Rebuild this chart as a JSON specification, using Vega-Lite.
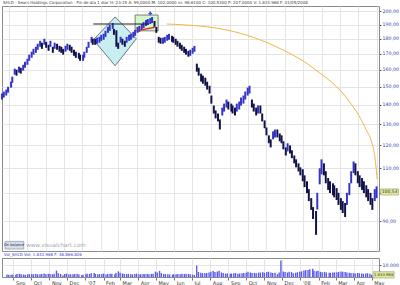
{
"$schema": "https://vega.github.io/schema/vega-lite/v6.json",
"padding": 0,
"spacing": 0,
"background": "#ffffff",
"config": {
  "font": "DejaVu Sans",
  "view": {"stroke": "#8a8a8a", "strokeWidth": 1},
  "axis": {"gridColor": "#e4e4e4", "gridWidth": 1, "labelFont": "DejaVu Sans", "title": null}
},
"datasets": {
"px": [
{"d":"2006-08-21","h":146.2,"l":142.9,"u":1,"v":2100},
{"d":"2006-08-24","h":147.3,"l":144.0,"u":1,"v":1900},
{"d":"2006-08-28","h":148.4,"l":145.1,"u":1,"v":1800},
{"d":"2006-08-31","h":150.0,"l":146.7,"u":1,"v":2200},
{"d":"2006-09-05","h":153.0,"l":149.5,"u":1,"v":2000},
{"d":"2006-09-07","h":155.9,"l":152.3,"u":1,"v":2500},
{"d":"2006-09-11","h":160.7,"l":157.1,"u":1,"v":2800},
{"d":"2006-09-14","h":160.1,"l":156.5,"u":0,"v":2300},
{"d":"2006-09-18","h":162.0,"l":158.3,"u":1,"v":2100},
{"d":"2006-09-21","h":161.3,"l":157.7,"u":0,"v":1900},
{"d":"2006-09-25","h":163.1,"l":159.5,"u":1,"v":2200},
{"d":"2006-09-28","h":165.0,"l":161.3,"u":1,"v":2400},
{"d":"2006-10-02","h":166.9,"l":163.1,"u":1,"v":2600},
{"d":"2006-10-05","h":169.5,"l":165.6,"u":1,"v":2300},
{"d":"2006-10-09","h":171.4,"l":167.5,"u":1,"v":2700},
{"d":"2006-10-12","h":173.3,"l":169.5,"u":1,"v":2200},
{"d":"2006-10-16","h":174.7,"l":170.7,"u":1,"v":2400},
{"d":"2006-10-19","h":176.7,"l":172.7,"u":1,"v":2600},
{"d":"2006-10-23","h":178.7,"l":174.7,"u":1,"v":3000},
{"d":"2006-10-26","h":177.4,"l":173.3,"u":0,"v":2300},
{"d":"2006-10-30","h":180.1,"l":176.0,"u":1,"v":2800},
{"d":"2006-11-02","h":178.0,"l":174.0,"u":0,"v":2500},
{"d":"2006-11-06","h":176.0,"l":172.0,"u":0,"v":2300},
{"d":"2006-11-09","h":178.7,"l":174.7,"u":1,"v":2700},
{"d":"2006-11-13","h":174.7,"l":170.7,"u":0,"v":5400},
{"d":"2006-11-16","h":177.4,"l":173.3,"u":1,"v":3200},
{"d":"2006-11-20","h":176.7,"l":172.7,"u":0,"v":2500},
{"d":"2006-11-24","h":175.3,"l":171.4,"u":0,"v":1500},
{"d":"2006-11-27","h":174.7,"l":170.7,"u":0,"v":2600},
{"d":"2006-11-30","h":173.3,"l":169.5,"u":0,"v":2900},
{"d":"2006-12-04","h":175.3,"l":171.4,"u":1,"v":2400},
{"d":"2006-12-07","h":176.7,"l":172.7,"u":1,"v":2200},
{"d":"2006-12-11","h":176.0,"l":172.0,"u":0,"v":2300},
{"d":"2006-12-14","h":174.7,"l":170.7,"u":0,"v":2500},
{"d":"2006-12-18","h":172.7,"l":168.8,"u":0,"v":2800},
{"d":"2006-12-21","h":171.4,"l":167.5,"u":0,"v":2200},
{"d":"2006-12-26","h":170.7,"l":166.9,"u":0,"v":1600},
{"d":"2006-12-28","h":169.5,"l":165.6,"u":0,"v":1800},
{"d":"2007-01-02","h":169.5,"l":165.6,"u":1,"v":2400},
{"d":"2007-01-04","h":171.4,"l":167.5,"u":1,"v":2700},
{"d":"2007-01-08","h":174.7,"l":170.7,"u":1,"v":2600},
{"d":"2007-01-11","h":178.0,"l":174.0,"u":1,"v":3100},
{"d":"2007-01-16","h":181.4,"l":177.4,"u":1,"v":3400},
{"d":"2007-01-18","h":180.1,"l":176.0,"u":0,"v":2500},
{"d":"2007-01-22","h":180.1,"l":176.0,"u":0,"v":2300},
{"d":"2007-01-25","h":180.8,"l":176.7,"u":1,"v":2400},
{"d":"2007-01-29","h":181.4,"l":177.4,"u":1,"v":2600},
{"d":"2007-02-01","h":182.8,"l":178.7,"u":1,"v":2900},
{"d":"2007-02-05","h":183.5,"l":179.4,"u":1,"v":2200},
{"d":"2007-02-08","h":185.6,"l":181.4,"u":1,"v":2500},
{"d":"2007-02-12","h":188.4,"l":184.2,"u":1,"v":2800},
{"d":"2007-02-15","h":189.8,"l":185.6,"u":1,"v":2700},
{"d":"2007-02-20","h":191.2,"l":187.0,"u":1,"v":2400},
{"d":"2007-02-22","h":187.0,"l":182.8,"u":0,"v":3300},
{"d":"2007-02-26","h":186.0,"l":174.7,"u":0,"v":4800},
{"d":"2007-03-01","h":177.4,"l":173.3,"u":0,"v":3500},
{"d":"2007-03-05","h":181.4,"l":177.4,"u":1,"v":3000},
{"d":"2007-03-08","h":180.1,"l":176.0,"u":0,"v":2600},
{"d":"2007-03-12","h":178.7,"l":174.7,"u":0,"v":2400},
{"d":"2007-03-15","h":181.4,"l":177.4,"u":1,"v":2700},
{"d":"2007-03-19","h":182.8,"l":178.7,"u":1,"v":2300},
{"d":"2007-03-22","h":183.5,"l":179.4,"u":1,"v":2200},
{"d":"2007-03-26","h":184.9,"l":180.8,"u":1,"v":2500},
{"d":"2007-03-29","h":186.3,"l":182.1,"u":1,"v":2800},
{"d":"2007-04-02","h":188.4,"l":184.2,"u":1,"v":2400},
{"d":"2007-04-05","h":189.1,"l":184.9,"u":1,"v":2300},
{"d":"2007-04-09","h":190.5,"l":186.3,"u":1,"v":2600},
{"d":"2007-04-12","h":191.9,"l":187.7,"u":1,"v":2500},
{"d":"2007-04-16","h":193.4,"l":189.1,"u":1,"v":2700},
{"d":"2007-04-19","h":194.1,"l":189.8,"u":1,"v":2300},
{"d":"2007-04-23","h":194.8,"l":190.5,"u":1,"v":2600},
{"d":"2007-04-26","h":195.6,"l":191.2,"u":1,"v":2800},
{"d":"2007-04-30","h":192.7,"l":188.4,"u":0,"v":4500},
{"d":"2007-05-03","h":188.4,"l":184.2,"u":0,"v":3800},
{"d":"2007-05-07","h":181.4,"l":177.4,"u":0,"v":5200},
{"d":"2007-05-10","h":180.8,"l":176.7,"u":0,"v":3300},
{"d":"2007-05-14","h":180.8,"l":176.7,"u":1,"v":2600},
{"d":"2007-05-17","h":181.4,"l":177.4,"u":1,"v":2400},
{"d":"2007-05-21","h":182.8,"l":178.7,"u":1,"v":2300},
{"d":"2007-05-24","h":183.5,"l":179.4,"u":1,"v":2200},
{"d":"2007-05-29","h":182.1,"l":178.0,"u":0,"v":2000},
{"d":"2007-05-31","h":181.4,"l":177.4,"u":0,"v":2400},
{"d":"2007-06-04","h":180.1,"l":176.0,"u":0,"v":2300},
{"d":"2007-06-07","h":178.7,"l":174.7,"u":0,"v":2600},
{"d":"2007-06-11","h":177.4,"l":173.3,"u":0,"v":2400},
{"d":"2007-06-14","h":176.0,"l":172.0,"u":0,"v":2700},
{"d":"2007-06-18","h":174.7,"l":170.7,"u":0,"v":2500},
{"d":"2007-06-21","h":173.3,"l":169.5,"u":0,"v":2800},
{"d":"2007-06-25","h":172.0,"l":168.2,"u":0,"v":2600},
{"d":"2007-06-28","h":172.7,"l":168.8,"u":1,"v":2300},
{"d":"2007-07-02","h":174.0,"l":170.1,"u":1,"v":2000},
{"d":"2007-07-05","h":175.3,"l":171.4,"u":1,"v":1600},
{"d":"2007-07-09","h":163.8,"l":158.9,"u":0,"v":9500},
{"d":"2007-07-12","h":161.3,"l":156.5,"u":0,"v":4200},
{"d":"2007-07-16","h":157.7,"l":153.0,"u":0,"v":3600},
{"d":"2007-07-19","h":156.5,"l":151.8,"u":0,"v":3300},
{"d":"2007-07-23","h":155.3,"l":150.6,"u":0,"v":3100},
{"d":"2007-07-26","h":152.9,"l":148.4,"u":0,"v":3400},
{"d":"2007-07-30","h":150.6,"l":146.2,"u":0,"v":3800},
{"d":"2007-08-02","h":145.1,"l":140.7,"u":0,"v":4500},
{"d":"2007-08-06","h":139.7,"l":135.5,"u":0,"v":5000},
{"d":"2007-08-09","h":137.1,"l":133.0,"u":0,"v":4200},
{"d":"2007-08-13","h":135.5,"l":131.5,"u":0,"v":4600},
{"d":"2007-08-16","h":132.5,"l":127.5,"u":0,"v":5200},
{"d":"2007-08-20","h":138.6,"l":134.5,"u":1,"v":3800},
{"d":"2007-08-23","h":140.7,"l":136.5,"u":1,"v":3300},
{"d":"2007-08-27","h":142.9,"l":138.6,"u":1,"v":2900},
{"d":"2007-08-30","h":141.8,"l":137.6,"u":0,"v":3000},
{"d":"2007-09-04","h":140.7,"l":136.5,"u":0,"v":2700},
{"d":"2007-09-06","h":139.7,"l":135.5,"u":0,"v":2900},
{"d":"2007-09-10","h":138.6,"l":134.5,"u":0,"v":3100},
{"d":"2007-09-13","h":140.7,"l":136.5,"u":1,"v":3300},
{"d":"2007-09-17","h":141.8,"l":137.6,"u":1,"v":2800},
{"d":"2007-09-20","h":144.0,"l":139.7,"u":1,"v":3000},
{"d":"2007-09-24","h":145.1,"l":140.7,"u":1,"v":3200},
{"d":"2007-09-27","h":147.3,"l":142.9,"u":1,"v":3400},
{"d":"2007-10-01","h":149.5,"l":145.1,"u":1,"v":3600},
{"d":"2007-10-04","h":150.6,"l":146.2,"u":1,"v":4500},
{"d":"2007-10-08","h":142.9,"l":138.6,"u":0,"v":3800},
{"d":"2007-10-11","h":140.7,"l":136.5,"u":0,"v":3300},
{"d":"2007-10-15","h":138.6,"l":134.5,"u":0,"v":3500},
{"d":"2007-10-18","h":139.7,"l":135.5,"u":1,"v":3200},
{"d":"2007-10-22","h":139.7,"l":135.5,"u":0,"v":3600},
{"d":"2007-10-25","h":135.5,"l":131.5,"u":0,"v":3800},
{"d":"2007-10-29","h":132.0,"l":128.1,"u":0,"v":4100},
{"d":"2007-11-01","h":128.5,"l":124.7,"u":0,"v":3500},
{"d":"2007-11-05","h":124.7,"l":121.0,"u":0,"v":4200},
{"d":"2007-11-08","h":122.8,"l":119.1,"u":0,"v":4500},
{"d":"2007-11-12","h":126.6,"l":122.8,"u":1,"v":3700},
{"d":"2007-11-15","h":127.5,"l":123.7,"u":1,"v":3400},
{"d":"2007-11-19","h":127.5,"l":123.7,"u":0,"v":3600},
{"d":"2007-11-23","h":125.6,"l":121.9,"u":0,"v":2400},
{"d":"2007-11-26","h":124.7,"l":121.0,"u":0,"v":3800},
{"d":"2007-11-29","h":121.9,"l":118.2,"u":0,"v":14000},
{"d":"2007-12-03","h":119.1,"l":115.5,"u":0,"v":4600},
{"d":"2007-12-06","h":121.0,"l":117.3,"u":1,"v":4200},
{"d":"2007-12-10","h":120.0,"l":116.4,"u":0,"v":3800},
{"d":"2007-12-13","h":117.8,"l":114.3,"u":0,"v":4400},
{"d":"2007-12-17","h":115.5,"l":112.1,"u":0,"v":4100},
{"d":"2007-12-20","h":113.8,"l":110.4,"u":0,"v":3200},
{"d":"2007-12-24","h":112.1,"l":108.7,"u":0,"v":3600},
{"d":"2007-12-27","h":110.4,"l":107.1,"u":0,"v":4000},
{"d":"2007-12-31","h":109.6,"l":104.7,"u":0,"v":4500},
{"d":"2008-01-03","h":107.1,"l":102.4,"u":0,"v":4800},
{"d":"2008-01-07","h":104.7,"l":100.1,"u":0,"v":5500},
{"d":"2008-01-10","h":101.6,"l":97.1,"u":0,"v":5800},
{"d":"2008-01-14","h":98.2,"l":93.9,"u":0,"v":6000},
{"d":"2008-01-17","h":94.9,"l":90.7,"u":0,"v":6500},
{"d":"2008-01-22","h":93.5,"l":85.4,"u":0,"v":7000},
{"d":"2008-01-24","h":100.2,"l":94.0,"u":1,"v":5200},
{"d":"2008-01-28","h":110.0,"l":103.5,"u":1,"v":4800},
{"d":"2008-01-31","h":113.8,"l":107.5,"u":1,"v":5200},
{"d":"2008-02-04","h":112.1,"l":107.1,"u":0,"v":4400},
{"d":"2008-02-07","h":108.8,"l":103.9,"u":0,"v":3900},
{"d":"2008-02-11","h":106.0,"l":101.3,"u":0,"v":4300},
{"d":"2008-02-14","h":104.7,"l":100.1,"u":0,"v":3800},
{"d":"2008-02-19","h":103.9,"l":99.3,"u":0,"v":3600},
{"d":"2008-02-21","h":103.1,"l":98.5,"u":0,"v":3500},
{"d":"2008-02-25","h":102.0,"l":97.5,"u":0,"v":3700},
{"d":"2008-02-28","h":100.2,"l":95.7,"u":0,"v":3900},
{"d":"2008-03-03","h":98.2,"l":93.9,"u":0,"v":4000},
{"d":"2008-03-06","h":97.1,"l":92.8,"u":0,"v":4300},
{"d":"2008-03-10","h":96.4,"l":91.4,"u":0,"v":4700},
{"d":"2008-03-13","h":100.2,"l":95.7,"u":1,"v":4400},
{"d":"2008-03-17","h":104.0,"l":99.3,"u":1,"v":4200},
{"d":"2008-03-20","h":108.8,"l":103.9,"u":1,"v":3800},
{"d":"2008-03-24","h":112.9,"l":108.0,"u":1,"v":3600},
{"d":"2008-03-27","h":112.1,"l":107.1,"u":0,"v":3300},
{"d":"2008-03-31","h":108.8,"l":103.9,"u":0,"v":3200},
{"d":"2008-04-03","h":107.1,"l":102.4,"u":0,"v":3000},
{"d":"2008-04-07","h":106.0,"l":101.3,"u":0,"v":3400},
{"d":"2008-04-10","h":104.7,"l":100.1,"u":0,"v":3100},
{"d":"2008-04-14","h":103.1,"l":98.5,"u":0,"v":2900},
{"d":"2008-04-17","h":101.6,"l":97.1,"u":0,"v":2800},
{"d":"2008-04-21","h":100.2,"l":95.7,"u":0,"v":3000},
{"d":"2008-04-24","h":98.2,"l":93.9,"u":0,"v":3200},
{"d":"2008-04-28","h":101.6,"l":97.1,"u":1,"v":2700},
{"d":"2008-05-01","h":102.7,"l":98.2,"u":1,"v":1834}
]
},
"vconcat": [
{
  "width": 377,
  "height": 245,
  "title": {"text": "SHLD - Sears Holdings Corporation - Fin de día 1 diar H: 23:15 A: 99,0000 M: 102,0000 m: 98,6100 C: 100,5300 P: 207,0000 V: 1.833.968 F: 01/05/2008", "fontSize": 4, "fontWeight": "normal", "color": "#404040", "anchor": "start", "offset": 1, "dx": 2},
  "layer": [
    {
      "data": {"values": [{"d":"2007-01-19","y":179.4,"y2":179.4},{"d":"2007-02-24","y":195.7,"y2":162.5},{"d":"2007-03-31","y":180.1,"y2":180.1}]},
      "mark": {"type": "area", "fill": "#c8eef2", "fillOpacity": 1, "stroke": "#4a5a60", "strokeWidth": 0.8},
      "encoding": {
        "x": {"field": "d", "type": "temporal",
              "scale": {"domain": [{"year":2006,"month":8,"date":21},{"year":2008,"month":5,"date":5}], "nice": false},
              "axis": {"grid": true, "labels": false, "ticks": false, "domain": false, "tickCount": {"interval": "month", "step": 1}}},
        "y": {"field": "y", "type": "quantitative",
              "scale": {"type": "log", "domain": [80.3, 204], "nice": false, "zero": false},
              "axis": {"orient": "right", "values": [90,100,110,120,130,140,150,160,170,180,190,200], "labelExpr": "datum.value == 100 ? '' : replace(format(datum.value,'.2f'),'.',',')", "labelFontSize": 4.7, "labelColor": "#3c3caa", "tickSize": 2, "tickColor": "#555555", "labelPadding": 1, "domain": false, "grid": true}},
        "y2": {"field": "y2"}
      }
    },
    {
      "data": {"values": [{"d1":"2007-03-29","d2":"2007-05-06","p1":197.1,"p2":185.6}]},
      "mark": {"type": "rect", "fill": "#d4f5c8", "stroke": "#5a6a5a", "strokeWidth": 0.8},
      "encoding": {
        "x": {"field": "d1", "type": "temporal"},
        "x2": {"field": "d2"},
        "y": {"field": "p1", "type": "quantitative"},
        "y2": {"field": "p2"}
      }
    },
    {
      "data": {"name": "px"},
      "mark": {"type": "rule", "strokeWidth": 2},
      "encoding": {
        "x": {"field": "d", "type": "temporal"},
        "y": {"field": "l", "type": "quantitative"},
        "y2": {"field": "h"},
        "color": {"field": "u", "type": "nominal", "scale": {"domain": [0, 1], "range": ["#12124a", "#3434c8"]}, "legend": null}
      }
    },
    {
      "data": {"values": [{"d1":"2007-01-19","d2":"2007-04-21","p":190.5}]},
      "mark": {"type": "rule", "stroke": "#202020", "strokeWidth": 1.2},
      "encoding": {
        "x": {"field": "d1", "type": "temporal"},
        "x2": {"field": "d2"},
        "y": {"field": "p", "type": "quantitative"}
      }
    },
    {
      "data": {"values": [{"d1":"2007-04-04","p1":185.9,"d2":"2007-04-30","p2":188.0}]},
      "mark": {"type": "rule", "stroke": "#e02020", "strokeWidth": 1.2},
      "encoding": {
        "x": {"field": "d1", "type": "temporal"},
        "x2": {"field": "d2"},
        "y": {"field": "p1", "type": "quantitative"},
        "y2": {"field": "p2"}
      }
    },
    {
      "data": {"values": [{"d":"2007-04-23","p":198.3}]},
      "mark": {"type": "point", "shape": "cross", "filled": true, "size": 14, "color": "#4050e0", "opacity": 1},
      "encoding": {
        "x": {"field": "d", "type": "temporal"},
        "y": {"field": "p", "type": "quantitative"}
      }
    },
    {
      "data": {"values": [{"d":"2007-05-20","p":190.5},{"d":"2007-08-18","p":187.0},{"d":"2007-11-10","p":176.0},{"d":"2008-01-21","p":160.1},{"d":"2008-03-17","p":141.8},{"d":"2008-04-11","p":129.0},{"d":"2008-04-27","p":116.9},{"d":"2008-05-02","p":105.5}]},
      "mark": {"type": "line", "stroke": "#f3b445", "strokeWidth": 1, "interpolate": "monotone"},
      "encoding": {
        "x": {"field": "d", "type": "temporal"},
        "y": {"field": "p", "type": "quantitative"}
      }
    },
    {
      "data": {"values": [{"d":"2006-09-30","p":82.1,"t":"www.visualchart.com"}]},
      "mark": {"type": "text", "align": "left", "baseline": "middle", "fontSize": 5.6, "color": "#a8a8b4"},
      "encoding": {
        "x": {"field": "d", "type": "temporal"},
        "y": {"field": "p", "type": "quantitative"},
        "text": {"field": "t"}
      }
    },
    {
      "data": {"values": [{"d1":"2006-08-26","d2":"2006-09-26","p1":80.9,"p2":83.3}]},
      "mark": {"type": "rect", "fill": "#d6dce8", "stroke": "#7f8fa8", "strokeWidth": 0.6},
      "encoding": {
        "x": {"field": "d1", "type": "temporal"},
        "x2": {"field": "d2"},
        "y": {"field": "p1", "type": "quantitative"},
        "y2": {"field": "p2"}
      }
    },
    {
      "data": {"values": [{"d":"2006-09-10","p":82.1,"t":"On balance"}]},
      "mark": {"type": "text", "align": "center", "baseline": "middle", "fontSize": 3.6, "color": "#303048"},
      "encoding": {
        "x": {"field": "d", "type": "temporal"},
        "y": {"field": "p", "type": "quantitative"},
        "text": {"field": "t"}
      }
    },
    {
      "data": {"values": [{"d":"2008-05-01","p":100.53,"t":"100,53"}]},
      "mark": {"type": "point", "shape": "M-1,-0.34L1,-0.34L1,0.34L-1,0.34Z", "size": 324, "filled": true, "fill": "#e2ea9c", "stroke": "#8a8a60", "strokeWidth": 0.5, "opacity": 1, "xOffset": 13},
      "encoding": {
        "x": {"field": "d", "type": "temporal"},
        "y": {"field": "p", "type": "quantitative"}
      }
    },
    {
      "data": {"values": [{"d":"2008-05-01","p":100.53,"t":"100,53"}]},
      "mark": {"type": "text", "align": "center", "baseline": "middle", "fontSize": 4.5, "color": "#303030", "xOffset": 13},
      "encoding": {
        "x": {"field": "d", "type": "temporal"},
        "y": {"field": "p", "type": "quantitative"},
        "text": {"field": "t"}
      }
    }
  ]
},
{
  "width": 377,
  "height": 19,
  "title": {"text": "Vol_SHLD Vol: 1.833.968 F: 46.866.826", "fontSize": 4, "fontWeight": "normal", "color": "#3a3ad0", "anchor": "start", "offset": 1, "dx": 2},
  "layer": [
    {
      "data": {"name": "px"},
      "mark": {"type": "bar", "width": 1.4, "color": "#5a5aee"},
      "encoding": {
        "x": {"field": "d", "type": "temporal",
              "scale": {"domain": [{"year":2006,"month":8,"date":21},{"year":2008,"month":5,"date":5}], "nice": false},
              "axis": {"grid": true, "tickCount": {"interval": "month", "step": 1}, "labelExpr": "month(datum.value) == 0 ? \"'\" + timeFormat(datum.value, '%y') : timeFormat(datum.value, '%b')", "labelAlign": "left", "labelOffset": 2, "labelFontSize": 5, "labelColor": "#333333", "tickSize": 3, "tickColor": "#777777", "labelPadding": 0, "domain": false, "labelOverlap": false, "labelFlush": false}},
        "y": {"field": "v", "type": "quantitative",
              "scale": {"domain": [0, 16000], "nice": false},
              "axis": {"orient": "right", "values": [10000], "labelExpr": "replace(format(datum.value,','),',','.')", "labelFontSize": 4.7, "labelColor": "#3c3caa", "tickSize": 2, "tickColor": "#555555", "labelPadding": 1, "domain": false, "grid": true}}
      }
    },
    {
      "data": {"values": [{"d":"2008-05-01","v":1834,"t":"1.833.968"}]},
      "mark": {"type": "point", "shape": "M-1,-0.3L1,-0.3L1,0.3L-1,0.3Z", "size": 441, "filled": true, "fill": "#e2ea9c", "stroke": "#8a8a60", "strokeWidth": 0.5, "opacity": 1, "xOffset": 12},
      "encoding": {
        "x": {"field": "d", "type": "temporal"},
        "y": {"field": "v", "type": "quantitative"}
      }
    },
    {
      "data": {"values": [{"d":"2008-05-01","v":1834,"t":"1.833.968"}]},
      "mark": {"type": "text", "align": "center", "baseline": "middle", "fontSize": 3.8, "color": "#303030", "xOffset": 12},
      "encoding": {
        "x": {"field": "d", "type": "temporal"},
        "y": {"field": "v", "type": "quantitative"},
        "text": {"field": "t"}
      }
    }
  ]
}
]
}
